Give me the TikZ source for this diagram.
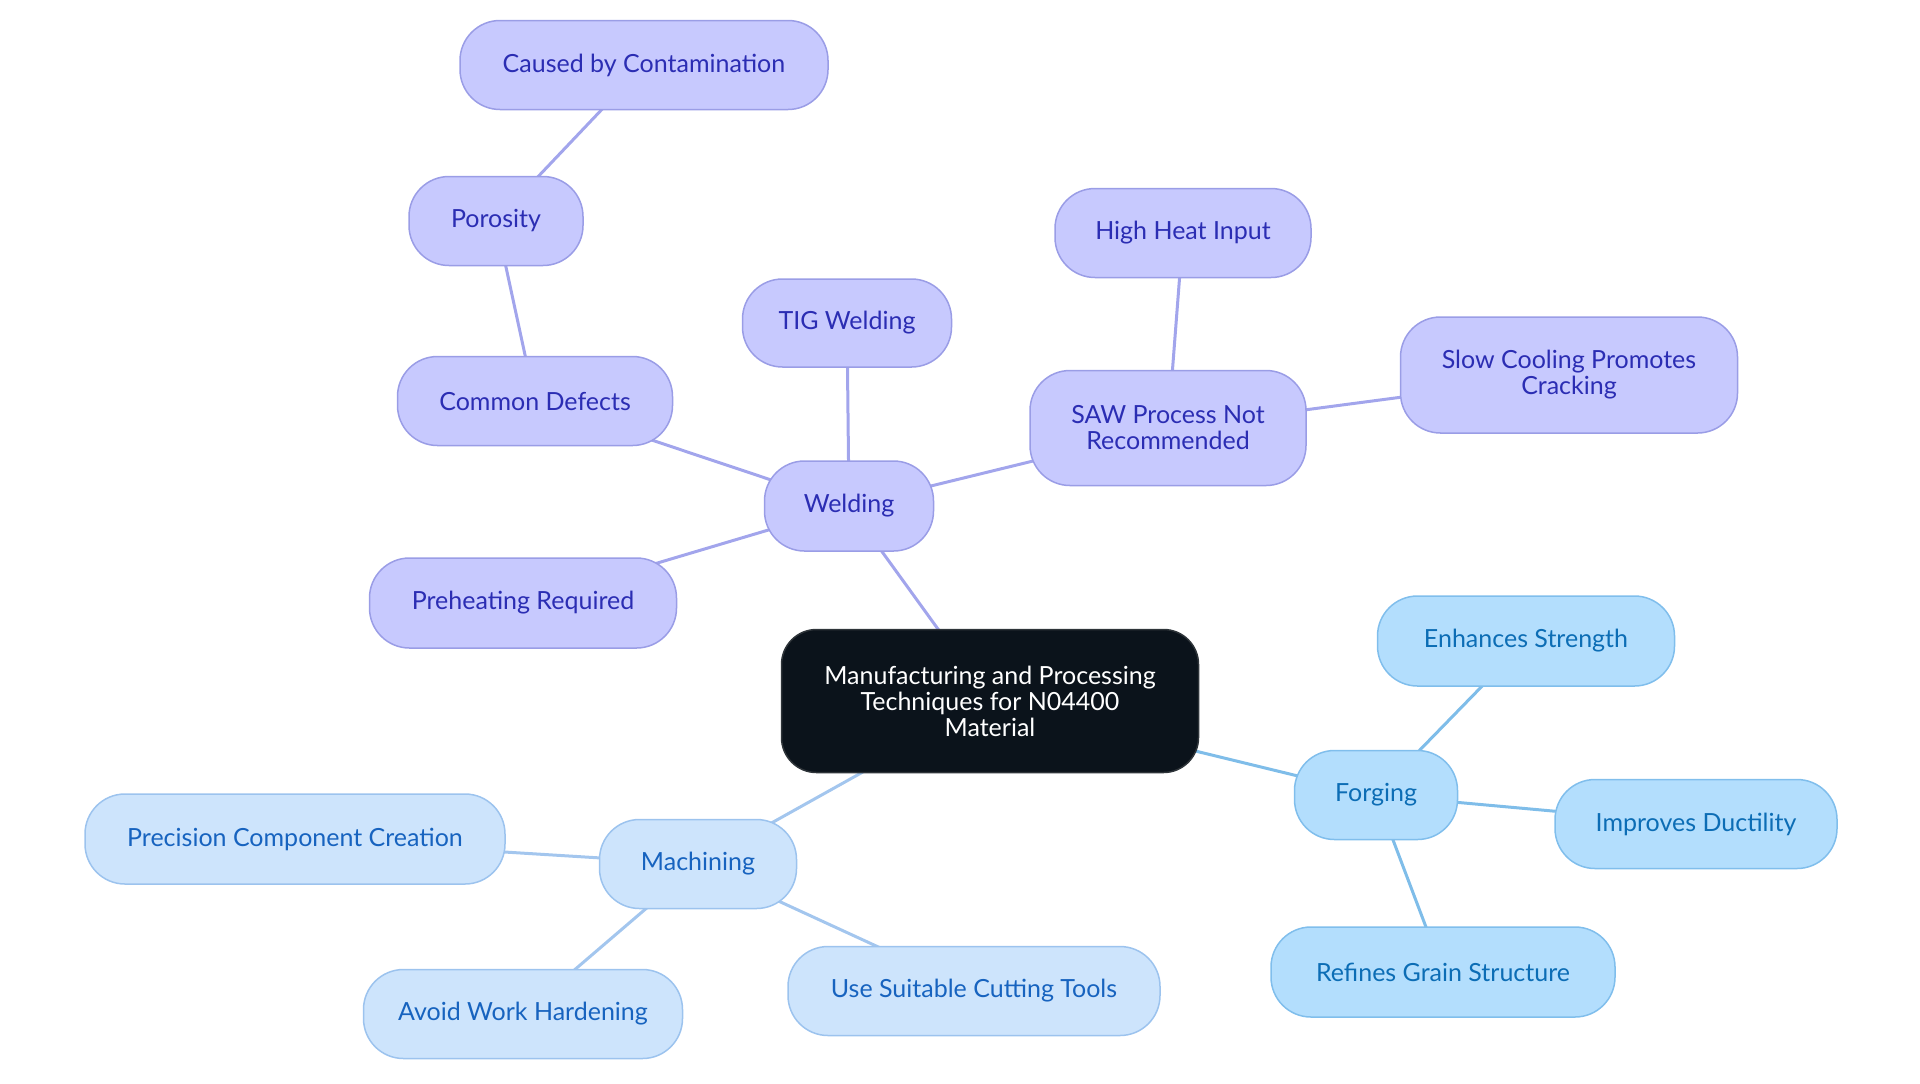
\documentclass[tikz,border=0pt]{standalone}
\usepackage{fontspec}
\setmainfont{Lato}
\usetikzlibrary{backgrounds}
\definecolor{pfill}{HTML}{C7C9FE}
\definecolor{pdraw}{HTML}{9A9DE6}
\definecolor{ptext}{HTML}{2B2DB3}
\definecolor{pline}{HTML}{A2A5EC}
\definecolor{ffill}{HTML}{B3DEFD}
\definecolor{fdraw}{HTML}{80BEEC}
\definecolor{ftext}{HTML}{0C6DB5}
\definecolor{fline}{HTML}{7FBDE9}
\definecolor{mfill}{HTML}{CDE4FC}
\definecolor{mdraw}{HTML}{9CC3EE}
\definecolor{mtext}{HTML}{1763BF}
\definecolor{mline}{HTML}{A3C6EE}
\definecolor{cfill}{HTML}{0B131B}
\tikzset{
  base/.style={rounded corners=20pt, align=center, inner sep=0pt, line width=0.75pt,
    font=\fontsize{12.5}{13}\selectfont},
  pnode/.style={base, fill=pfill, draw=pdraw, text=ptext},
  fnode/.style={base, fill=ffill, draw=fdraw, text=ftext},
  mnode/.style={base, fill=mfill, draw=mdraw, text=mtext},
  cnode/.style={base, rounded corners=17.5pt, fill=cfill, draw=cfill!70!gray, text=white},
  pedge/.style={draw=pline, line width=1.5pt},
  fedge/.style={draw=fline, line width=1.5pt},
  medge/.style={draw=mline, line width=1.5pt},
  sz/.style 2 args={minimum width=#1*0.5pt, minimum height=#2*0.5pt}
}
\begin{document}
\begin{tikzpicture}[x=0.5pt, y=-0.5pt]
\useasboundingbox (0,0) rectangle (1920,1083);
\node[cnode, sz={417}{143}] (c) at (990,701) {Manufacturing and Processing\\Techniques for N04400\\Material};
\node[pnode, sz={169}{90}] (weld) at (849,506) {Welding};
\node[pnode, sz={275}{89}] (defects) at (535,401) {Common Defects};
\node[pnode, sz={174}{89}] (poro) at (496,221) {Porosity};
\node[pnode, sz={368}{89}] (cont) at (644,65) {Caused by Contamination};
\node[pnode, sz={209}{88}] (tig) at (847,323) {TIG Welding};
\node[pnode, sz={276}{115}] (saw) at (1168,428) {SAW Process Not\\Recommended};
\node[pnode, sz={256}{89}] (heat) at (1183,233) {High Heat Input};
\node[pnode, sz={337}{116}] (slow) at (1569,375) {Slow Cooling Promotes\\Cracking};
\node[pnode, sz={307}{90}] (pre) at (523,603) {Preheating Required};
\node[fnode, sz={163}{89}] (forg) at (1376,795) {Forging};
\node[fnode, sz={297}{90}] (enh) at (1526,641) {Enhances Strength};
\node[fnode, sz={282}{89}] (duct) at (1696,824) {Improves Ductility};
\node[fnode, sz={344}{90}] (grain) at (1443,972) {Refines Grain Structure};
\node[mnode, sz={197}{89}] (mach) at (698,864) {Machining};
\node[mnode, sz={420}{90}] (prec) at (295,839) {Precision Component Creation};
\node[mnode, sz={319}{89}] (avoid) at (523,1014) {Avoid Work Hardening};
\node[mnode, sz={372}{89}] (tools) at (974,991) {Use Suitable Cutting Tools};
\begin{pgfonlayer}{background}
\draw[pedge] (c.center) -- (weld.center);
\draw[pedge] (weld.center) -- (defects.center);
\draw[pedge] (defects.center) -- (poro.center);
\draw[pedge] (poro.center) -- (cont.center);
\draw[pedge] (weld.center) -- (tig.center);
\draw[pedge] (weld.center) -- (saw.center);
\draw[pedge] (saw.center) -- (heat.center);
\draw[pedge] (saw.center) -- (slow.center);
\draw[pedge] (weld.center) -- (pre.center);
\draw[fedge] (c.center) -- (forg.center);
\draw[fedge] (forg.center) -- (enh.center);
\draw[fedge] (forg.center) -- (duct.center);
\draw[fedge] (forg.center) -- (grain.center);
\draw[medge] (c.center) -- (mach.center);
\draw[medge] (mach.center) -- (prec.center);
\draw[medge] (mach.center) -- (avoid.center);
\draw[medge] (mach.center) -- (tools.center);
\end{pgfonlayer}
\end{tikzpicture}
\end{document}
